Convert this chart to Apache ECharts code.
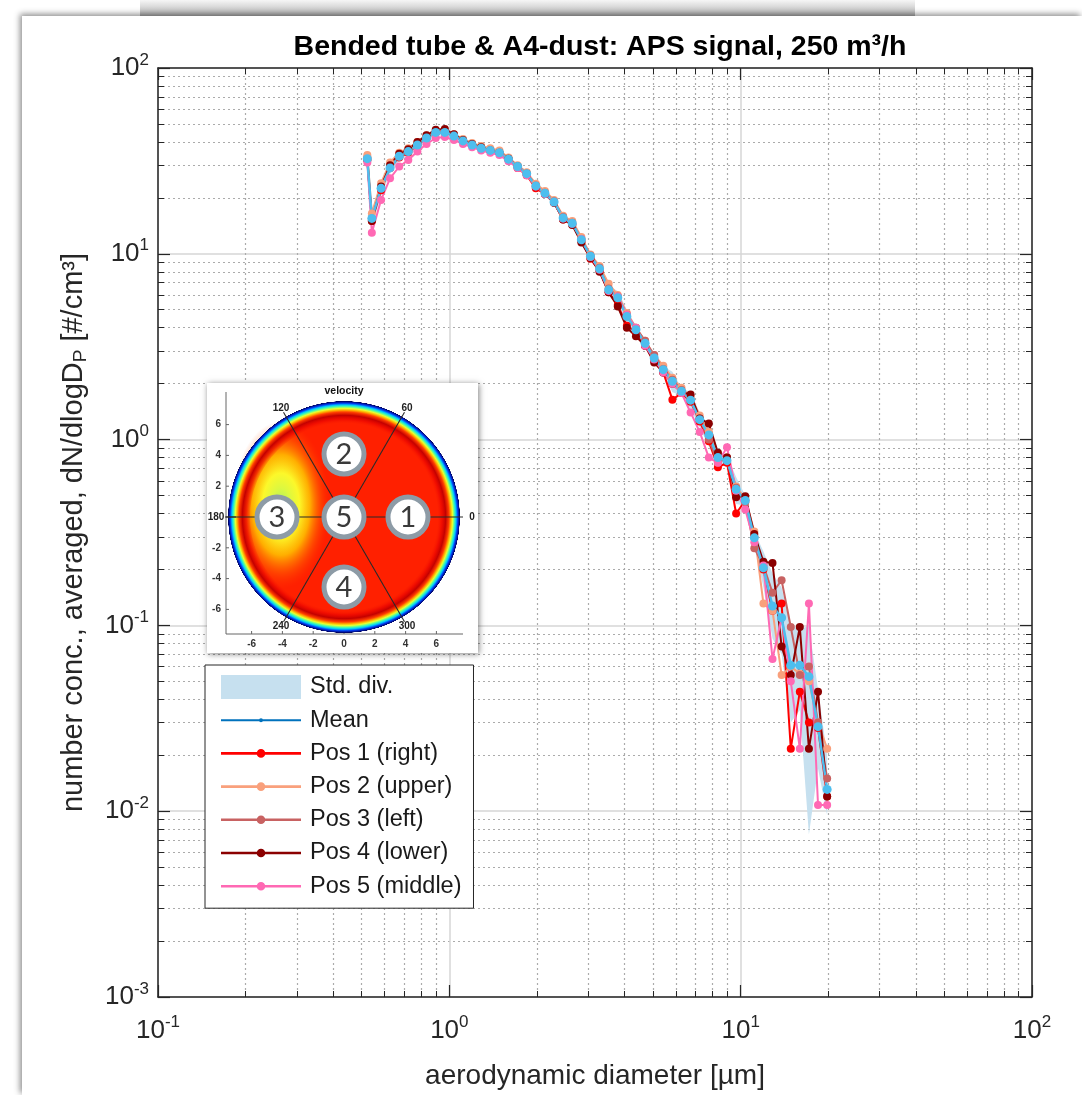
<!DOCTYPE html>
<html>
<head>
<meta charset="utf-8">
<title>Bended tube &amp; A4-dust: APS signal, 250 m³/h</title>
<script src="https://cdn.jsdelivr.net/npm/echarts@6.0.0/dist/echarts.min.js"></script>
<style>
  html, body { margin: 0; padding: 0; background: #fff; }
  #strip { position: absolute; left: 140px; top: 0; width: 775px; height: 16px; background: linear-gradient(#f6f6f6, #b3b3b3); }
  #card { position: absolute; left: 22px; top: 16px; width: 1060px; height: 1079px; background: #fff; box-shadow: -2px -2px 6px rgba(0, 0, 0, 0.45); }
  #chart { position: absolute; left: 0; top: 0; width: 1082px; height: 1095px; }
</style>
</head>
<body>
<div id="strip"></div>
<div id="card"></div>
<div id="chart"></div>
<script>
// APS channel midpoints [µm]
const diameters = [0.523, 0.542, 0.583, 0.626, 0.673, 0.723, 0.777, 0.835, 0.898, 0.965,
  1.037, 1.114, 1.197, 1.286, 1.382, 1.486, 1.596, 1.715, 1.843, 1.981,
  2.129, 2.288, 2.458, 2.642, 2.839, 3.051, 3.278, 3.523, 3.786, 4.068,
  4.371, 4.698, 5.048, 5.425, 5.829, 6.264, 6.732, 7.234, 7.774, 8.354,
  8.977, 9.647, 10.37, 11.14, 11.97, 12.86, 13.82, 14.86, 15.96, 17.15,
  18.43, 19.81];

// dN/dlogDp [#/cm³]
const meanConc = [32.5, 15.5, 22.5, 29, 33.5, 35.5, 38.5, 42, 45, 45,
  43, 40.5, 38.5, 37, 36, 35, 32.3, 29.5, 27, 23.2,
  21.2, 19, 15.6, 14.6, 11.9, 9.7, 8.3, 6.4, 5.8, 4.6,
  3.9, 3.3, 2.75, 2.38, 2.06, 1.82, 1.63, 1.28, 1.06, 0.80,
  0.77, 0.54, 0.47, 0.296, 0.204, 0.127, 0.110, 0.061, 0.061, 0.053,
  0.0285, 0.0131];
const stdLow = [31.5, 14, 20.5, 27, 31.5, 33.5, 36.5, 40, 43, 43.5,
  41.5, 39.5, 37.5, 36, 35, 34, 31.5, 28.8, 26.3, 22.6,
  20.6, 18.5, 15.2, 14.2, 11.5, 9.4, 8.0, 6.1, 5.3, 4.2,
  3.7, 3.15, 2.62, 2.28, 1.8, 1.74, 1.46, 1.16, 0.92, 0.72,
  0.72, 0.45, 0.44, 0.27, 0.16, 0.085, 0.07, 0.03, 0.035, 0.0075,
  0.017, 0.0095];
const stdHigh = [33.5, 17, 24.5, 31, 35.5, 37.5, 40.5, 44, 47, 46.5,
  44.5, 41.5, 39.5, 38, 37, 36, 33.1, 30.2, 27.7, 23.8,
  21.8, 19.5, 16, 15, 12.3, 10, 8.6, 6.7, 6.3, 5.0,
  4.1, 3.45, 2.88, 2.48, 2.32, 1.9, 1.8, 1.4, 1.2, 0.88,
  0.82, 0.63, 0.5, 0.32, 0.25, 0.19, 0.16, 0.10, 0.095, 0.10,
  0.045, 0.02];
const pos1Right = [33, 15.0, 22, 29, 33, 35, 38.5, 42, 45, 45.5,
  43, 40.5, 38.5, 37, 36, 35, 32, 29, 26.5, 22.5,
  21, 18.8, 15.3, 14.4, 11.7, 9.4, 8.1, 6.2, 5.3, 4.1,
  3.8, 3.2, 2.7, 2.3, 1.64, 1.78, 1.6, 1.25, 0.98, 0.71,
  0.75, 0.40, 0.47, 0.30, 0.20, 0.12, 0.131, 0.0217, 0.044, 0.03,
  0.028, 0.012];
const pos2Upper = [34, 16.5, 24, 31, 35, 37, 40, 43.5, 46, 46,
  44, 41.5, 39.5, 38, 37, 36, 33, 30, 27.5, 23.8,
  21.8, 19.5, 16, 15, 12.3, 9.9, 8.6, 6.9, 6.0, 4.8,
  4.0, 3.4, 2.85, 2.5, 2.15, 1.9, 1.7, 1.35, 1.1, 0.83,
  0.8, 0.56, 0.48, 0.32, 0.131, 0.12, 0.054, 0.06, 0.055, 0.05,
  0.03, 0.0217];
const pos3Left = [32, 15.5, 22.5, 29, 33.5, 35.5, 38.5, 42, 45, 45,
  43, 40.5, 38.5, 37, 36, 35, 32.5, 29.5, 27, 23.3,
  21.3, 19.2, 15.8, 14.7, 12, 9.8, 8.4, 6.5, 5.9, 4.7,
  4.0, 3.4, 2.85, 2.4, 2.1, 1.85, 1.65, 1.3, 1.0, 0.75,
  0.8, 0.55, 0.46, 0.26, 0.21, 0.15, 0.175, 0.098, 0.054, 0.06,
  0.03, 0.015];
const pos4Lower = [32, 15, 23, 30, 34.5, 36.5, 40, 43.5, 46.5, 47,
  44, 41, 39, 37.5, 36, 35, 32.5, 29.5, 27, 23,
  21, 18.8, 15.3, 14.3, 11.5, 9.5, 8.0, 6.2, 5.2, 4.0,
  3.6, 3.2, 2.6, 2.3, 2.0, 1.8, 1.75, 1.3, 1.22, 0.85,
  0.8, 0.49, 0.495, 0.31, 0.22, 0.217, 0.077, 0.054, 0.098, 0.0217,
  0.044, 0.012];
const pos5Middle = [31, 13, 19.5, 25.5, 29.5, 32, 35.5, 39, 42, 42.5,
  41, 39, 37.5, 36, 35, 34, 31.5, 29, 26.5, 23,
  21, 19, 15.5, 14.5, 12, 9.6, 8.2, 6.3, 5.9, 4.7,
  4.0, 3.2, 2.7, 2.3, 2.0, 1.78, 1.4, 1.1, 0.80, 0.75,
  0.91, 0.53, 0.42, 0.28, 0.21, 0.066, 0.11, 0.05, 0.0217, 0.131,
  0.0108, 0.0108];

// inset (velocity map) tick labels
const insetTicks = [-6, -4, -2, 0, 2, 4, 6];
const insetAngles = ['0', '60', '120', '180', '240', '300'];

const FONT = "'Liberation Sans', Arial, Helvetica, sans-serif";
const AXIS_COLOR = '#262626';
const STD_COLOR = '#c6e0ef';

const chart = echarts.init(document.getElementById('chart'));

const pow10Label = (v) => '{b|10}{e|' + Math.round(Math.log10(v)) + '}';
const tickRich = {
  b: { fontSize: 26, fontFamily: FONT, color: AXIS_COLOR },
  e: { fontSize: 17, fontFamily: FONT, color: AXIS_COLOR, padding: [0, 0, 16, 0] },
};

// log axis with MATLAB style box ticks
const logAxis = (min, max, extra) => Object.assign({
  type: 'log',
  logBase: 10,
  min: min,
  max: max,
  axisLine: { show: true, onZero: false, lineStyle: { color: AXIS_COLOR, width: 1.5 } },
  axisTick: { show: true, inside: true, length: 12, lineStyle: { color: AXIS_COLOR, width: 1.2 } },
  minorTick: { show: true, splitNumber: 9, length: 6, lineStyle: { color: AXIS_COLOR, width: 1 } },
  splitLine: { show: false },
  minorSplitLine: { show: false },
  axisLabel: { show: false },
  silent: true,
}, extra);

const gridLines = {
  splitLine: { show: true, lineStyle: { color: '#d6d6d6', width: 1.5 } },
  minorSplitLine: { show: true, lineStyle: { color: '#ababab', width: 1.2, type: [2, 3] } },
};

const lineSeries = (name, values, color, size, width) => ({
  type: 'line',
  name: name,
  data: diameters.map((d, i) => [d, values[i]]),
  symbol: 'circle',
  symbolSize: size,
  showSymbol: true,
  showAllSymbol: true,
  lineStyle: { color: color, width: width },
  itemStyle: { color: color, borderWidth: 0 },
  emphasis: { disabled: true },
});

// legend icon: bar with a dot, padded to the 84x24 icon box (bar is 80 wide)
const lineIcon = (r, h) => 'path://M0,0L0,0Z M84,24L84,24Z M0,' + (12 - h) + 'L80,' + (12 - h) + 'L80,' + (12 + h) +
  'L0,' + (12 + h) + 'Z M' + (40 - r) + ',12a' + r + ',' + r + ' 0 1,1 ' + (2 * r) + ',0a' + r + ',' + r + ' 0 1,1 ' + (-2 * r) + ',0Z';
const stdIcon = 'path://M0,0L80,0L80,24L0,24Z M84,24L84,24Z';

// ---- inset: velocity map of the tube cross-section ----
const IN_CX = 344, IN_CY = 517, IN_R = 116, IN_UNIT = 15.4;
const insetEls = [];
insetEls.push({ type: 'rect', shape: { x: 207, y: 383, width: 271, height: 270 },
  style: { fill: '#fff', shadowBlur: 6, shadowOffsetX: 1, shadowOffsetY: 1, shadowColor: 'rgba(0,0,0,0.5)' } });
insetEls.push({ type: 'line', shape: { x1: 226, y1: 392, x2: 226, y2: 634 }, style: { stroke: '#666', lineWidth: 1 } });
insetEls.push({ type: 'line', shape: { x1: 226, y1: 634, x2: 463, y2: 634 }, style: { stroke: '#666', lineWidth: 1 } });
insetTicks.forEach((t) => {
  const px = IN_CX + t * IN_UNIT;
  const py = IN_CY - t * IN_UNIT;
  insetEls.push({ type: 'line', shape: { x1: px, y1: 634, x2: px, y2: 631 }, style: { stroke: '#666', lineWidth: 1 } });
  insetEls.push({ type: 'text', x: px, y: 644, style: { text: String(t), fontSize: 10, fontWeight: 'bold', fontFamily: FONT,
    fill: '#333', align: 'center', verticalAlign: 'middle' } });
  if (t !== 0) {
    insetEls.push({ type: 'line', shape: { x1: 226, y1: py, x2: 229, y2: py }, style: { stroke: '#666', lineWidth: 1 } });
    insetEls.push({ type: 'text', x: 221, y: py, style: { text: String(t), fontSize: 10, fontWeight: 'bold', fontFamily: FONT,
      fill: '#333', align: 'right', verticalAlign: 'middle' } });
  }
});
// interior (yellow/green spot on the left) drawn first, edge rings on top
insetEls.push({ type: 'circle', shape: { cx: IN_CX, cy: IN_CY, r: IN_R - 8 }, style: { fill: '#ff2000' } });
insetEls.push({ type: 'circle', x: 281, y: 505, scaleX: 0.78, scaleY: 1.35, shape: { cx: 0, cy: 0, r: 62 },
  style: { fill: new echarts.graphic.RadialGradient(0.5, 0.5, 0.5, [
    { offset: 0, color: '#a6ee6a' },
    { offset: 0.2, color: '#dcf840' },
    { offset: 0.38, color: '#fcf82a' },
    { offset: 0.6, color: 'rgba(255,200,0,0.85)' },
    { offset: 0.82, color: 'rgba(255,130,0,0.35)' },
    { offset: 1, color: 'rgba(255,70,0,0)' },
  ]) } });
insetEls.push({ type: 'ring', shape: { cx: IN_CX, cy: IN_CY, r: IN_R + 16, r0: IN_R - 22 },
  style: { fill: new echarts.graphic.RadialGradient(0.5, 0.5, 0.5, [
    { offset: 0, color: 'rgba(255,255,255,0)' },
    { offset: 0.7, color: 'rgba(255,40,0,0)' },
    { offset: 0.74, color: 'rgba(236,6,0,0.7)' },
    { offset: 0.77, color: '#c40000' },
    { offset: 0.795, color: '#ff3c00' },
    { offset: 0.81, color: '#ffb000' },
    { offset: 0.823, color: '#e8ff30' },
    { offset: 0.836, color: '#50ffa0' },
    { offset: 0.849, color: '#00c8ff' },
    { offset: 0.862, color: '#0038f0' },
    { offset: 0.877, color: '#000060' },
    { offset: 0.879, color: 'rgba(255,255,255,0)' },
    { offset: 1, color: 'rgba(255,255,255,0)' },
  ]) } });
[0, 60, 120].forEach((a) => {
  const rad = a * Math.PI / 180;
  const len = a === 0 ? 119 : 121;
  const dx = len * Math.cos(rad), dy = len * Math.sin(rad);
  insetEls.push({ type: 'line', shape: { x1: IN_CX - dx, y1: IN_CY + dy, x2: IN_CX + dx, y2: IN_CY - dy },
    style: { stroke: '#2a2a2a', lineWidth: 1.1 } });
});
insetEls.push({ type: 'line', shape: { x1: 226, y1: IN_CY, x2: 236, y2: IN_CY }, style: { stroke: '#2a2a2a', lineWidth: 1.1 } });
insetAngles.forEach((lab) => {
  const rad = Number(lab) * Math.PI / 180;
  const rr = lab === '0' || lab === '180' ? 128 : 126;
  insetEls.push({ type: 'text', x: IN_CX + rr * Math.cos(rad), y: IN_CY - rr * Math.sin(rad),
    style: { text: lab, fontSize: 10, fontWeight: 'bold', fontFamily: FONT, fill: '#222', align: 'center', verticalAlign: 'middle' } });
});
insetEls.push({ type: 'text', x: IN_CX, y: 391, style: { text: 'velocity', fontSize: 10.5, fontWeight: 'bold', fontFamily: FONT,
  fill: '#111', align: 'center', verticalAlign: 'middle' } });
[['1', 408, 517], ['2', 344, 454], ['3', 277, 517], ['4', 344, 587], ['5', 344, 517]].forEach((b) => {
  insetEls.push({ type: 'circle', shape: { cx: b[1], cy: b[2], r: 20 }, style: { fill: '#fff', stroke: '#8d9ba6', lineWidth: 5 } });
  insetEls.push({ type: 'text', x: b[1], y: b[2] + 1, style: { text: b[0], fontSize: 29, fontFamily: "Lato, 'Open Sans', sans-serif",
    fill: '#3a3a3a', align: 'center', verticalAlign: 'middle' } });
});
insetEls.forEach((el) => { el.z = 100; el.silent = true; });

chart.setOption({
  animation: false,
  backgroundColor: 'transparent',
  title: {
    text: 'Bended tube & A4-dust: APS signal, 250 m³/h',
    left: 595,
    top: 28,
    textAlign: 'center',
    textStyle: { fontSize: 28.5, fontWeight: 'bold', color: '#000', fontFamily: FONT },
  },
  grid: { left: 158, right: 50, top: 68, bottom: 98, outerBoundsMode: 'none' },
  legend: {
    left: 205,
    top: 665,
    orient: 'vertical',
    padding: [10, 12, 10, 16],
    itemWidth: 84,
    itemHeight: 24,
    itemGap: 9.2,
    backgroundColor: '#fff',
    borderColor: AXIS_COLOR,
    borderWidth: 1,
    borderRadius: 0,
    selectedMode: false,
    itemStyle: { borderWidth: 0 },
    textStyle: { fontSize: 23.5, color: '#1a1a1a', fontFamily: FONT },
    data: [
      { name: 'Std. div.', icon: stdIcon },
      { name: 'Mean', icon: lineIcon(2, 1), itemStyle: { color: '#0072bd' } },
      { name: 'Pos 1 (right)', icon: lineIcon(4.3, 1.3) },
      { name: 'Pos 2 (upper)', icon: lineIcon(4.3, 1.3) },
      { name: 'Pos 3 (left)', icon: lineIcon(4.3, 1.3) },
      { name: 'Pos 4 (lower)', icon: lineIcon(4.3, 1.3) },
      { name: 'Pos 5 (middle)', icon: lineIcon(4.3, 1.3) },
    ],
  },
  xAxis: [
    logAxis(0.1, 100, Object.assign({
      position: 'bottom',
      name: 'aerodynamic diameter [µm]',
      nameLocation: 'middle',
      nameGap: 65,
      nameTextStyle: { fontSize: 28, color: AXIS_COLOR, fontFamily: FONT },
      axisLabel: { show: true, margin: 17, formatter: pow10Label, rich: tickRich },
    }, gridLines)),
    logAxis(0.1, 100, { position: 'top' }),
  ],
  yAxis: [
    logAxis(0.001, 100, Object.assign({
      position: 'left',
      name: '{t|number conc., averaged, dN/dlogD}{s|P}{t| [#/cm³]}',
      nameLocation: 'middle',
      nameGap: 68,
      nameTextStyle: {
        color: AXIS_COLOR,
        rich: {
          t: { fontSize: 29, color: AXIS_COLOR, fontFamily: FONT },
          s: { fontSize: 19, color: AXIS_COLOR, fontFamily: FONT, padding: [14, 0, 0, 0] },
        },
      },
      axisLabel: { show: true, margin: 9, formatter: pow10Label, rich: tickRich },
    }, gridLines)),
    logAxis(0.001, 100, { position: 'right' }),
  ],
  graphic: { elements: insetEls },
  series: [
    {
      type: 'custom',
      name: 'Std. div.',
      data: diameters.map((d, i) => [d, stdLow[i], stdHigh[i]]),
      encode: { x: 0, y: [1, 2] },
      itemStyle: { color: STD_COLOR },
      clip: true,
      renderItem: (params, api) => {
        if (params.dataIndex !== 0) return null;
        const pts = [];
        for (let i = 0; i < diameters.length; i++) pts.push(api.coord([diameters[i], stdHigh[i]]));
        for (let i = diameters.length - 1; i >= 0; i--) pts.push(api.coord([diameters[i], stdLow[i]]));
        return { type: 'polygon', shape: { points: pts }, style: { fill: STD_COLOR } };
      },
    },
    lineSeries('Pos 1 (right)', pos1Right, '#ff0000', 8, 2),
    lineSeries('Pos 2 (upper)', pos2Upper, '#f9a07c', 8, 2),
    lineSeries('Pos 3 (left)', pos3Left, '#c86262', 8, 2),
    lineSeries('Pos 4 (lower)', pos4Lower, '#8b0000', 8, 2),
    lineSeries('Pos 5 (middle)', pos5Middle, '#ff69b4', 8, 2),
    lineSeries('Mean', meanConc, '#4dbeee', 9, 2.5),
  ],
});
</script>
</body>
</html>
